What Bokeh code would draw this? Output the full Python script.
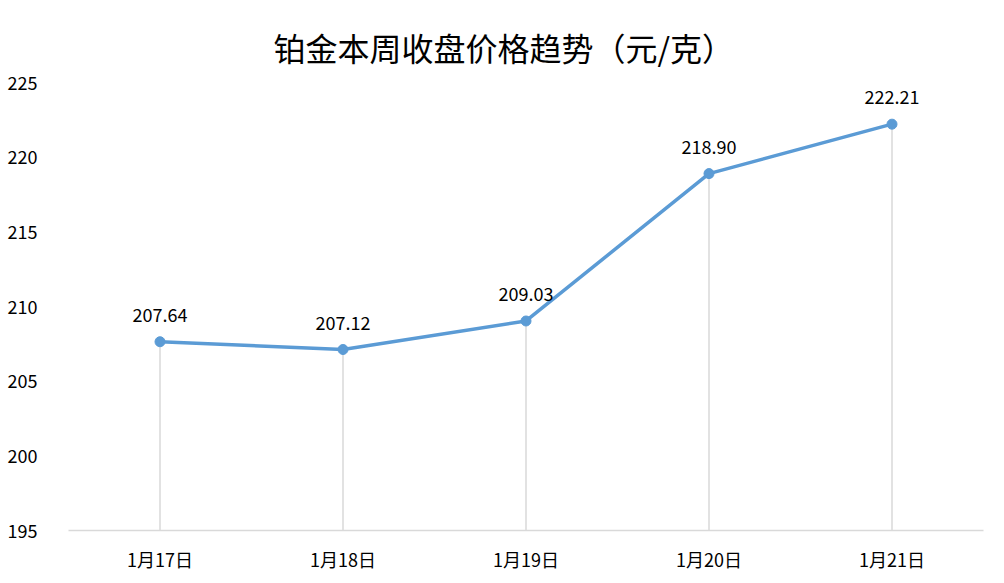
from bokeh.plotting import figure
from bokeh.models import ColumnDataSource, LabelSet, Range1d, FixedTicker
from bokeh.core.properties import value
from bokeh.embed import file_html
from bokeh.resources import INLINE

categories = ["1月17日", "1月18日", "1月19日", "1月20日", "1月21日"]
prices = [207.64, 207.12, 209.03, 218.90, 222.21]
labels = ["207.64", "207.12", "209.03", "218.90", "222.21"]
y_ticks = [195, 200, 205, 210, 215, 220, 225]
Y_MIN, Y_MAX = 195, 225
title_text = "铂金本周收盘价格趋势（元/克）"

FONT = "Noto Sans CJK SC"
BLUE = "#5B9BD5"
GREY = "#D9D9D9"

src = ColumnDataSource(dict(x=categories, y=prices, lab=labels, y0=[Y_MIN] * len(prices)))

p = figure(x_range=categories, y_range=Range1d(Y_MIN, Y_MAX), width=996, height=575,
           output_backend="svg", toolbar_location=None,
           min_border_left=68, min_border_right=13, min_border_top=82, min_border_bottom=45)
p.title.text = title_text
p.title.align = "left"
p.title.offset = 205
p.title.standoff = 26
p.title.text_font = FONT
p.title.text_font_size = "32px"
p.title.text_font_style = "normal"
p.title.text_color = "#000000"
p.outline_line_color = None
p.xgrid.grid_line_color = None
p.ygrid.grid_line_color = None

p.segment(x0="x", y0="y0", x1="x", y1="y", source=src, line_color=GREY, line_width=1.5)
p.line("x", "y", source=src, line_color=BLUE, line_width=3.5)
p.scatter("x", "y", source=src, size=10, fill_color=BLUE, line_color=BLUE)

lbl = LabelSet(x="x", y="y", text="lab", source=src, y_offset=20, text_align="center",
               text_baseline="alphabetic", text_font=value(FONT), text_font_size=value("18px"),
               text_color="#000000")
p.add_layout(lbl)

p.yaxis.ticker = FixedTicker(ticks=y_ticks)
p.yaxis.axis_line_color = None
p.yaxis.major_tick_line_color = None
p.yaxis.minor_tick_line_color = None
p.yaxis.major_label_standoff = 25
p.yaxis.major_label_text_font = FONT
p.yaxis.major_label_text_font_size = "18px"
p.yaxis.major_label_text_color = "#000000"

p.xaxis.axis_line_color = GREY
p.xaxis.axis_line_width = 1.5
p.xaxis.major_tick_line_color = None
p.xaxis.minor_tick_line_color = None
p.xaxis.major_label_standoff = 9
p.xaxis.major_label_text_font = FONT
p.xaxis.major_label_text_font_size = "18px"
p.xaxis.major_label_text_color = "#000000"

open("out.html", "w").write(file_html(p, INLINE))
